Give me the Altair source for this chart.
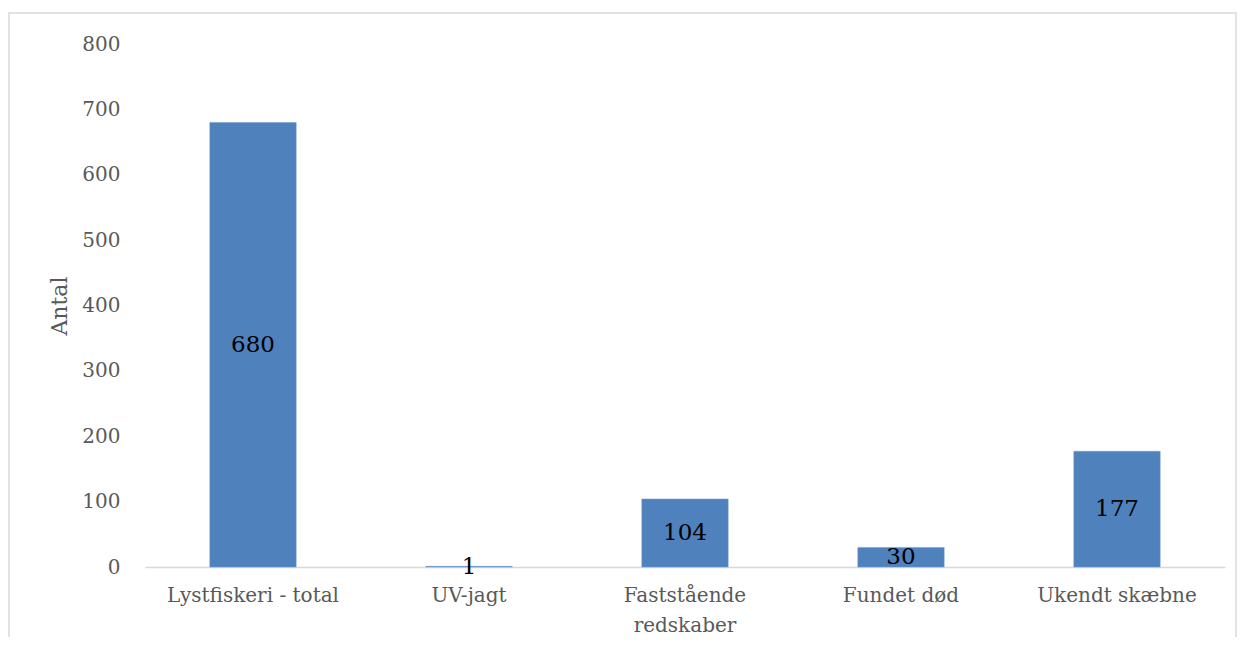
import altair as alt
import pandas as pd

categories = ["Lystfiskeri - total", "UV-jagt", "Faststående redskaber", "Fundet død", "Ukendt skæbne"]
values = [680, 1, 104, 30, 177]

df = pd.DataFrame({"kategori": categories, "antal": values})

FONT = "DejaVu Serif"
GRAY = "#595959"

x = alt.X(
    "kategori:N",
    sort=categories,
    title=None,
    scale=alt.Scale(paddingInner=0.6, paddingOuter=0.3),
    axis=alt.Axis(
        labelAngle=0,
        labelFont=FONT,
        labelFontSize=20,
        labelColor=GRAY,
        labelPadding=18,
        labelLineHeight=30,
        ticks=False,
        domainColor="#d9d9d9",
        domainWidth=1.5,
        labelExpr="datum.value == 'Faststående redskaber' ? ['Faststående', 'redskaber'] : datum.value",
    ),
)

y = alt.Y(
    "antal:Q",
    title="Antal",
    scale=alt.Scale(domain=[0, 800]),
    axis=alt.Axis(
        values=[0, 100, 200, 300, 400, 500, 600, 700, 800],
        grid=False,
        domain=False,
        ticks=False,
        labelFont=FONT,
        labelFontSize=20,
        labelColor=GRAY,
        labelPadding=25,
        titleFont=FONT,
        titleFontSize=22,
        titleFontWeight="normal",
        titleColor=GRAY,
        titlePadding=10,
    ),
)

base = alt.Chart(df)

border = base.mark_rect(fill=None, stroke="#d9d9d9", strokeWidth=1.5).encode(
    x=alt.value(-136), x2=alt.value(1091), y=alt.value(-31), y2=alt.value(640)
).transform_filter("datum.kategori == 'UV-jagt'")

bars = base.mark_bar(color="#4F81BD", stroke="#6f9bd0", strokeWidth=0.5).encode(x=x, y=y)

labels = base.transform_calculate(mid="datum.antal / 2").mark_text(
    font=FONT, fontSize=23, color="black", baseline="middle", align="center"
).encode(
    x=alt.X("kategori:N", sort=categories),
    y=alt.Y("mid:Q"),
    text=alt.Text("antal:Q"),
)

chart = alt.layer(border, bars, labels).properties(
    width=1080,
    height=523,
    background="white",
    autosize=alt.AutoSizeParams(type="none"),
    padding={"left": 137, "top": 36, "right": 12, "bottom": 70},
).configure_view(strokeWidth=0, stroke="transparent")

chart.save("out.html", embed_options={"renderer": "svg", "actions": False})
